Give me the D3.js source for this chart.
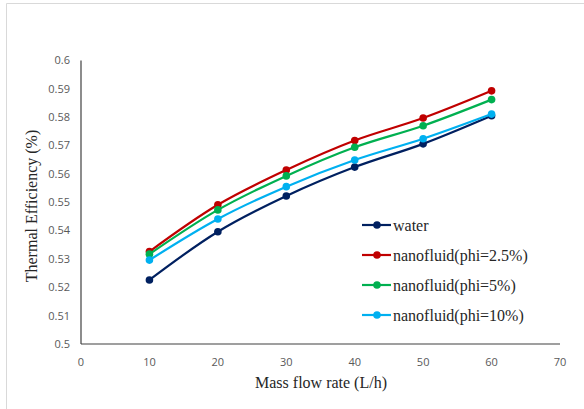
<!DOCTYPE html>
<html><head><meta charset="utf-8">
<script src="https://cdn.jsdelivr.net/npm/d3@7"></script>
<style>body{margin:0;background:#fff}svg{display:block}</style>
</head><body><svg id="c" width="584" height="409"></svg>
<script>
const flowRates = [10, 20, 30, 40, 50, 60];
const seriesNames = ["water", "nanofluid(phi=2.5%)", "nanofluid(phi=5%)", "nanofluid(phi=10%)"];
const water = [0.5226, 0.5396, 0.5522, 0.5624, 0.5706, 0.5805];
const phi25 = [0.5326, 0.5491, 0.5614, 0.5718, 0.5797, 0.5893];
const phi5 = [0.5317, 0.5473, 0.5593, 0.5694, 0.5770, 0.5862];
const phi10 = [0.5296, 0.5441, 0.5555, 0.5649, 0.5724, 0.5811];
const xTicks = [0, 10, 20, 30, 40, 50, 60, 70];
const yTicks = [0.5, 0.51, 0.52, 0.53, 0.54, 0.55, 0.56, 0.57, 0.58, 0.59, 0.6];
const colors = ["#002060", "#C00000", "#00B050", "#00B0F0"];
const allSeries = [water, phi25, phi5, phi10];

const svg = d3.select("#c");
svg.append("path").attr("d","M6.5,409 V3.5 H584").attr("fill","none").attr("stroke","#d9d9d9").attr("stroke-width",1);

const x = d3.scaleLinear().domain([0,70]).range([81,560]);
const y = d3.scaleLinear().domain([0.5,0.6]).range([344,60.5]);

svg.append("g").selectAll("text").data(yTicks).join("text")
  .attr("x",70).attr("y",d=>y(d)).attr("dy","0.35em").attr("text-anchor","end")
  .attr("font-family","'Open Sans', 'Liberation Sans', sans-serif").attr("font-size",11).attr("fill","#595959")
  .text(d=>d3.format("")(+d.toFixed(2)));
svg.append("g").selectAll("text").data(xTicks).join("text")
  .attr("x",d=>x(d)).attr("y",366).attr("text-anchor","middle")
  .attr("font-family","'Open Sans', 'Liberation Sans', sans-serif").attr("font-size",11).attr("fill","#595959")
  .text(d=>d);

svg.append("line").attr("x1",x(0)).attr("x2",x(0)).attr("y1",y(0.6)).attr("y2",y(0.5)).attr("stroke","#404040").attr("stroke-width",1.2);
svg.append("line").attr("x1",x(0)).attr("x2",x(70)).attr("y1",y(0.5)).attr("y2",y(0.5)).attr("stroke","#404040").attr("stroke-width",1.2);

svg.append("text").attr("x",321).attr("y",388).attr("text-anchor","middle")
  .attr("font-family","'Liberation Serif', 'Times New Roman', serif").attr("font-size",16).attr("fill","#262626")
  .text("Mass flow rate (L/h)");
svg.append("text").attr("transform","translate(37,206) rotate(-90)").attr("text-anchor","middle")
  .attr("font-family","'Liberation Serif', 'Times New Roman', serif").attr("font-size",16).attr("fill","#262626")
  .text("Thermal Efficiency (%)");

const line = d3.line().x((d,i)=>x(flowRates[i])).y(d=>y(d)).curve(d3.curveCatmullRom.alpha(0.5));
allSeries.forEach((s,k)=>{
  const g = svg.append("g");
  g.append("path").attr("d",line(s)).attr("fill","none").attr("stroke",colors[k]).attr("stroke-width",2.2);
  g.selectAll("circle").data(s).join("circle").attr("cx",(d,i)=>x(flowRates[i])).attr("cy",d=>y(d)).attr("r",3.8).attr("fill",colors[k]);
});

const lg = svg.append("g");
seriesNames.forEach((n,k)=>{
  const yy = 225 + k*30;
  lg.append("line").attr("x1",362).attr("x2",391).attr("y1",yy).attr("y2",yy).attr("stroke",colors[k]).attr("stroke-width",2.2);
  lg.append("circle").attr("cx",377).attr("cy",yy).attr("r",3.8).attr("fill",colors[k]);
  lg.append("text").attr("x",393).attr("y",yy).attr("dy","0.35em")
    .attr("font-family","'Liberation Serif', 'Times New Roman', serif").attr("font-size",16).attr("fill","#262626").text(n);
});
</script></body></html>
